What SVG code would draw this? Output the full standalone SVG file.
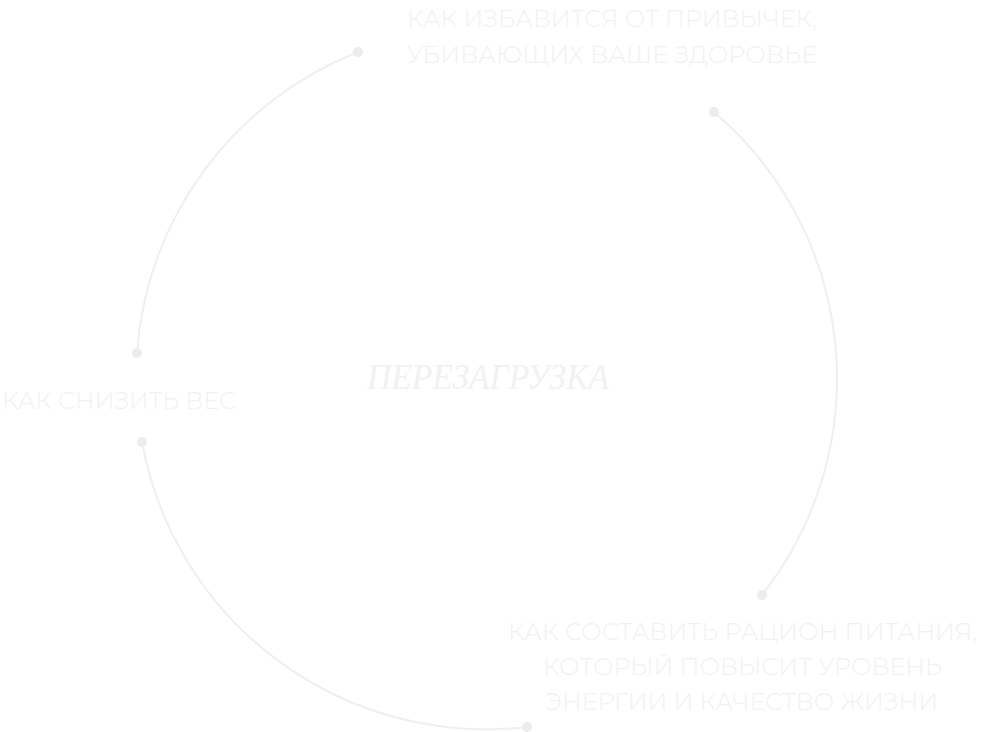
<svg xmlns="http://www.w3.org/2000/svg" width="996" height="732" viewBox="0 0 996 732">
<style>
.arc{fill:none;stroke:#efefef;stroke-width:2}
.dot{fill:#ececec}
.lbl{font-family:"Montserrat","Open Sans","Liberation Sans",sans-serif;font-weight:300;font-size:24px;fill:#f1f1f1;text-anchor:middle}
.ttl{font-family:"Liberation Serif","Times New Roman",serif;font-style:italic;font-size:36px;fill:#f1f1f1;text-anchor:middle}
</style>
<rect width="996" height="732" fill="#ffffff"/>
<g id="connectors">
<path class="arc" d="M358 52 A350 350 0 0 0 137 353"/>
<path class="arc" d="M142 442 A350 350 0 0 0 527 727"/>
<path class="arc" d="M714 112 A350 350 0 0 1 762 595"/>
<circle class="dot" cx="358" cy="52" r="5"/>
<circle class="dot" cx="137" cy="353" r="5"/>
<circle class="dot" cx="142" cy="442" r="5"/>
<circle class="dot" cx="527" cy="727" r="5"/>
<circle class="dot" cx="714" cy="112" r="5"/>
<circle class="dot" cx="762" cy="595" r="5"/>
</g>
<g id="center">
<text class="ttl" x="488" y="389" textLength="242" lengthAdjust="spacingAndGlyphs">ПЕРЕЗАГРУЗКА</text>
</g>
<g id="habits">
<text class="lbl" x="612" y="27" textLength="410" lengthAdjust="spacingAndGlyphs">КАК ИЗБАВИТСЯ ОТ ПРИВЫЧЕК,</text>
<text class="lbl" x="612" y="63" textLength="410" lengthAdjust="spacingAndGlyphs">УБИВАЮЩИХ ВАШЕ ЗДОРОВЬЕ</text>
</g>
<g id="weight">
<text class="lbl" x="119" y="409" textLength="234" lengthAdjust="spacingAndGlyphs">КАК СНИЗИТЬ ВЕС</text>
</g>
<g id="diet">
<text class="lbl" x="742.5" y="640" textLength="469" lengthAdjust="spacingAndGlyphs">КАК СОСТАВИТЬ РАЦИОН ПИТАНИЯ,</text>
<text class="lbl" x="742.5" y="675" textLength="399" lengthAdjust="spacingAndGlyphs">КОТОРЫЙ ПОВЫСИТ УРОВЕНЬ</text>
<text class="lbl" x="741.5" y="710" textLength="393" lengthAdjust="spacingAndGlyphs">ЭНЕРГИИ И КАЧЕСТВО ЖИЗНИ</text>
</g>
</svg>
